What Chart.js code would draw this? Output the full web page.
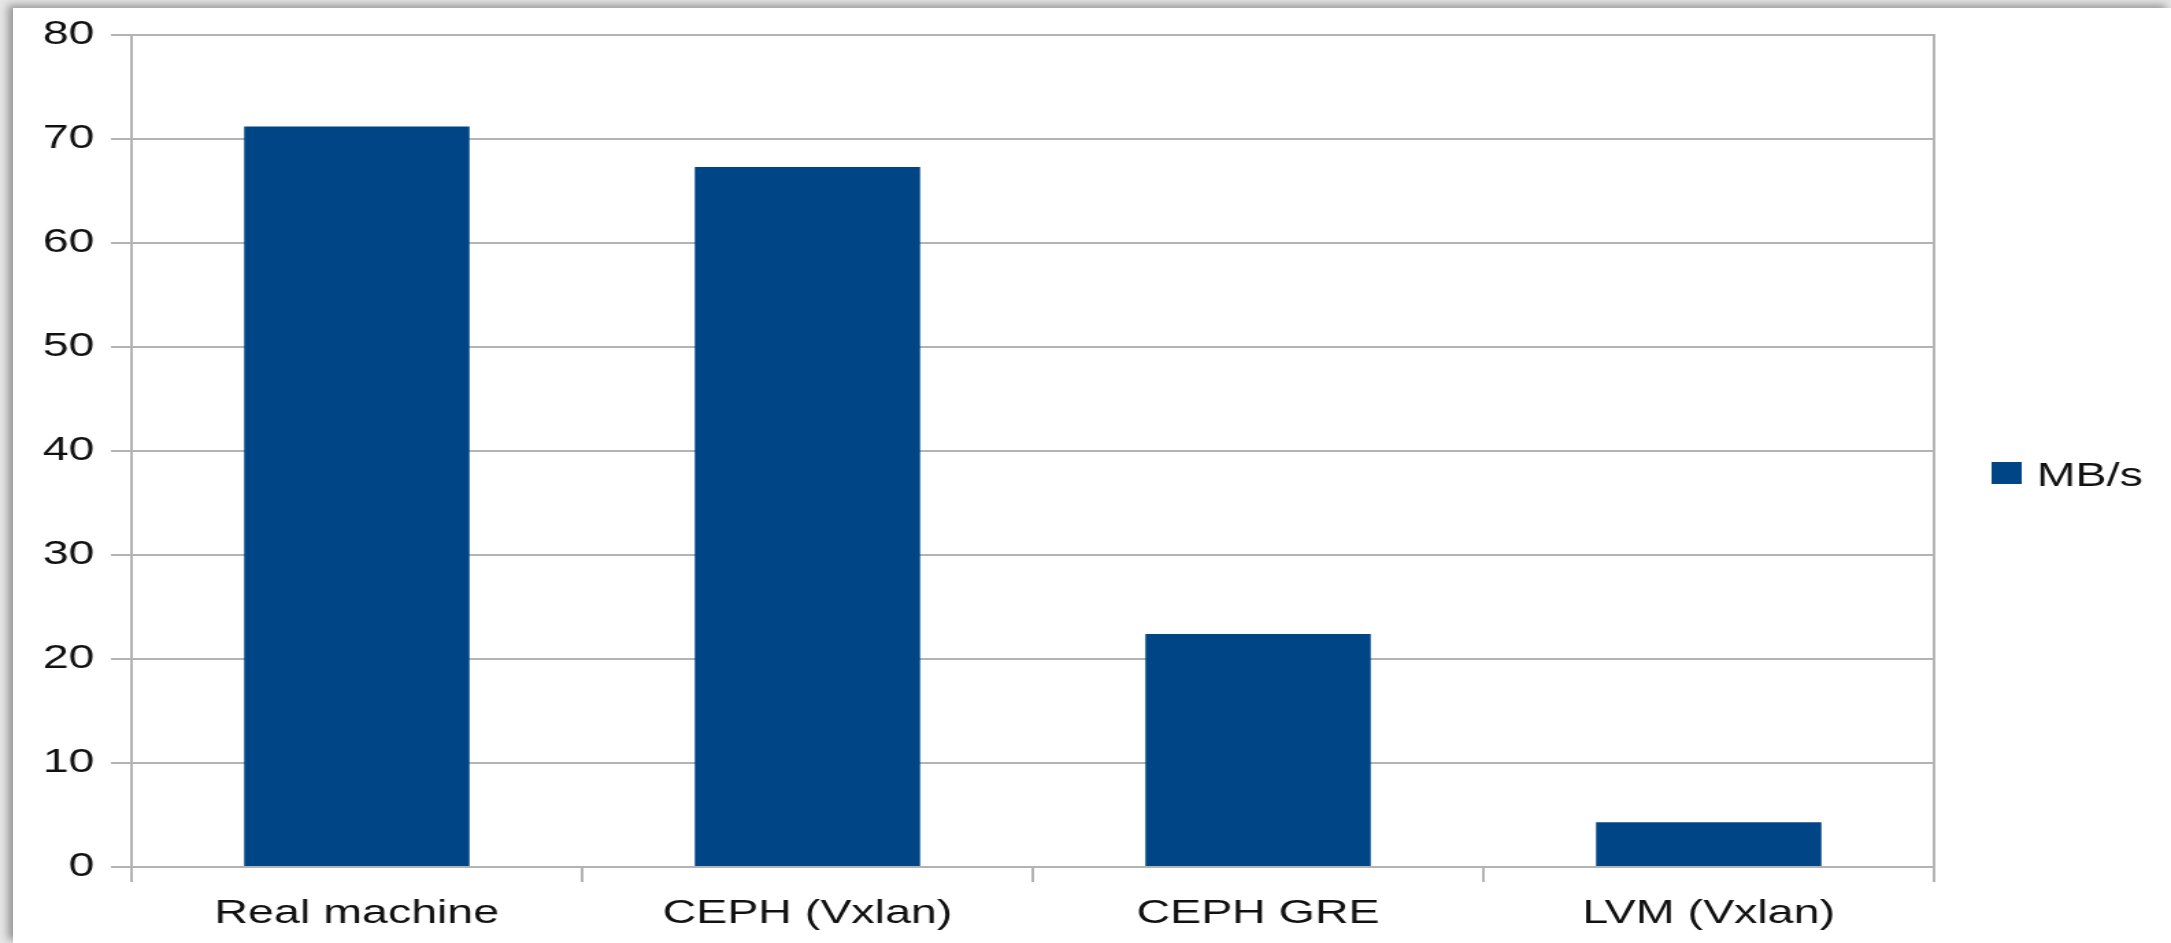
<!DOCTYPE html>
<html>
<head>
<meta charset="utf-8">
<script src="https://cdn.jsdelivr.net/npm/chart.js@4/dist/chart.umd.min.js"></script>
<style>
  html, body { margin: 0; padding: 0; width: 2171px; height: 943px; overflow: hidden; background: #e6e6e6; }
  #panel { position: absolute; left: 13px; top: 8px; width: 2158px; height: 935px; background: #fff;
           box-shadow: -5px -3px 8px rgba(0,0,0,0.35); }
  /* the source picture is stretched horizontally, so the chart is drawn narrow and scaled */
  #wrap { position: absolute; left: 0; top: 0; width: 1585px; height: 943px;
          transform: scaleX(1.3697); transform-origin: 0 0; }
</style>
</head>
<body>
<div id="panel"></div>
<div id="wrap"><canvas id="chart"></canvas></div>
<script>
  // Data
  const categories = ["Real machine", "CEPH (Vxlan)", "CEPH GRE", "LVM (Vxlan)"];
  const seriesName = "MB/s";
  const throughput = [71.2, 67.3, 22.4, 4.3];
  const yTicks = [0, 10, 20, 30, 40, 50, 60, 70, 80];

  const colors = {
    bar: "#004586",
    grid: "#b3b3b3",
    text: "#111111",
  };
  const fontFamily = "'Liberation Sans', Arial, sans-serif";
  const fontSize = 34;

  // Legend drawn beside the plot, like the office-suite chart
  const sideLegend = {
    id: "sideLegend",
    afterDraw(chart) {
      const ctx = chart.ctx;
      const area = chart.chartArea;
      const ds = chart.data.datasets[0];
      const x = area.right + 42;
      ctx.save();
      ctx.fillStyle = ds.backgroundColor;
      ctx.fillRect(x, 462, 22, 22);
      ctx.fillStyle = colors.text;
      ctx.font = fontSize + "px " + fontFamily;
      ctx.textBaseline = "alphabetic";
      ctx.textAlign = "left";
      ctx.fillText(ds.label, x + 33, 486);
      ctx.restore();
    },
  };

  new Chart(document.getElementById("chart"), {
    type: "bar",
    data: {
      labels: categories,
      datasets: [
        {
          label: seriesName,
          data: throughput,
          backgroundColor: colors.bar,
          borderWidth: 0,
          barPercentage: 0.5,
          categoryPercentage: 1.0,
        },
      ],
    },
    options: {
      responsive: true,
      maintainAspectRatio: false,
      animation: false,
      layout: {
        padding: { left: 0, top: 35, right: 173, bottom: 0 },
      },
      scales: {
        x: {
          offset: true,
          border: { display: true, color: colors.grid, width: 2 },
          grid: {
            offset: true,
            drawOnChartArea: false,
            drawTicks: true,
            tickLength: 15,
            color: colors.grid,
            lineWidth: 2,
          },
          ticks: {
            color: colors.text,
            font: { family: fontFamily, size: fontSize },
            padding: 11,
            maxRotation: 0,
            autoSkip: false,
          },
          afterFit: function (scale) {
            scale.height = 76;
          },
        },
        y: {
          min: yTicks[0],
          max: yTicks[yTicks.length - 1],
          afterBuildTicks: function (scale) {
            scale.ticks = yTicks.map((v) => ({ value: v }));
          },
          border: { display: true, color: colors.grid, width: 2 },
          grid: {
            color: colors.grid,
            lineWidth: 2,
            tickLength: 15,
          },
          ticks: {
            color: colors.text,
            font: { family: fontFamily, size: fontSize },
            padding: 12,
          },
          afterFit: function (scale) {
            scale.width = 96;
          },
        },
        yRight: {
          position: "right",
          min: yTicks[0],
          max: yTicks[yTicks.length - 1],
          border: { display: true, color: colors.grid, width: 2 },
          grid: { display: false },
          ticks: { display: false },
          afterFit: function (scale) {
            scale.width = 0;
          },
        },
      },
      plugins: {
        legend: { display: false },
        tooltip: { enabled: false },
      },
    },
    plugins: [sideLegend],
  });
</script>
</body>
</html>
